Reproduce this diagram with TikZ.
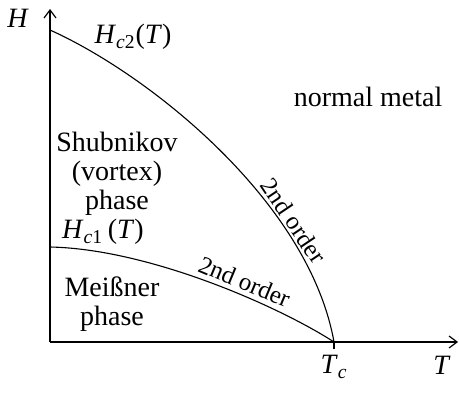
\documentclass[tikz,border=0pt]{standalone}
\usepackage{fontspec}
\setmainfont{Liberation Serif}
\usetikzlibrary{arrows.meta}

\newcommand{\qty}[1]{\textit{#1}}

\begin{document}
\begin{tikzpicture}[
    x=0.5pt, y=0.5pt,
    >={Straight Barb[length=4pt, width=6pt]},
    line width=0.6pt,
    every node/.style={font=\fontsize{14}{14.5}\selectfont},
    region/.style={align=center},
    phaseline/.style={line width=0.55pt},
    order/.style={font=\fontsize{12.5}{14}\selectfont, sloped, above, inner sep=1pt}
]
    \useasboundingbox (0,0) rectangle (459,392);

    % === Axes ===
    \coordinate (O) at (50,50);
    \coordinate (Htip) at (50,383);
    \coordinate (Ttip) at (458,50);
    \coordinate (Tc) at (334,50);
    \coordinate (Tctick) at (334,43);
    \coordinate (Hc2zero) at (50,362);
    \coordinate (Hc1zero) at (50,145);

    \draw[->] (O) -- (Htip);
    \draw[->] (O) -- (Ttip);
    \draw (Tc) -- (Tctick);

    % === Phase boundaries ===
    \draw[phaseline] (Hc2zero) .. controls (150,317) and (309,190) .. (Tc)
        node[order, pos=0.715] {2nd order};
    \draw[phaseline] (Hc1zero) .. controls (150,143) and (280,85) .. (Tc)
        node[order, pos=0.6, inner sep=2pt] {2nd order};

    % === Labels ===
    \node (Hlabel) at (18,374) {\qty{H}};
    \node (Tlabel) at (442,27) {\qty{T}};
    \node (Tclabel) at (334,25) {\qty{T}\textsubscript{\qty{c}}};
    \node (Hc2label) at (133,355) {\qty{H}\textsubscript{\qty{c}2}(\qty{T})};
    \node (Hc1label) at (103,160) {\qty{H}\textsubscript{\qty{c}1}\,(\qty{T})};
    \node[region] (normal) at (368,295) {normal metal};
    \node[region] (shubnikov) at (117,218) {Shubnikov\\(vortex)\\phase};
    \node[region] (meissner) at (112,88) {Meißner\\phase};

\end{tikzpicture}
\end{document}
